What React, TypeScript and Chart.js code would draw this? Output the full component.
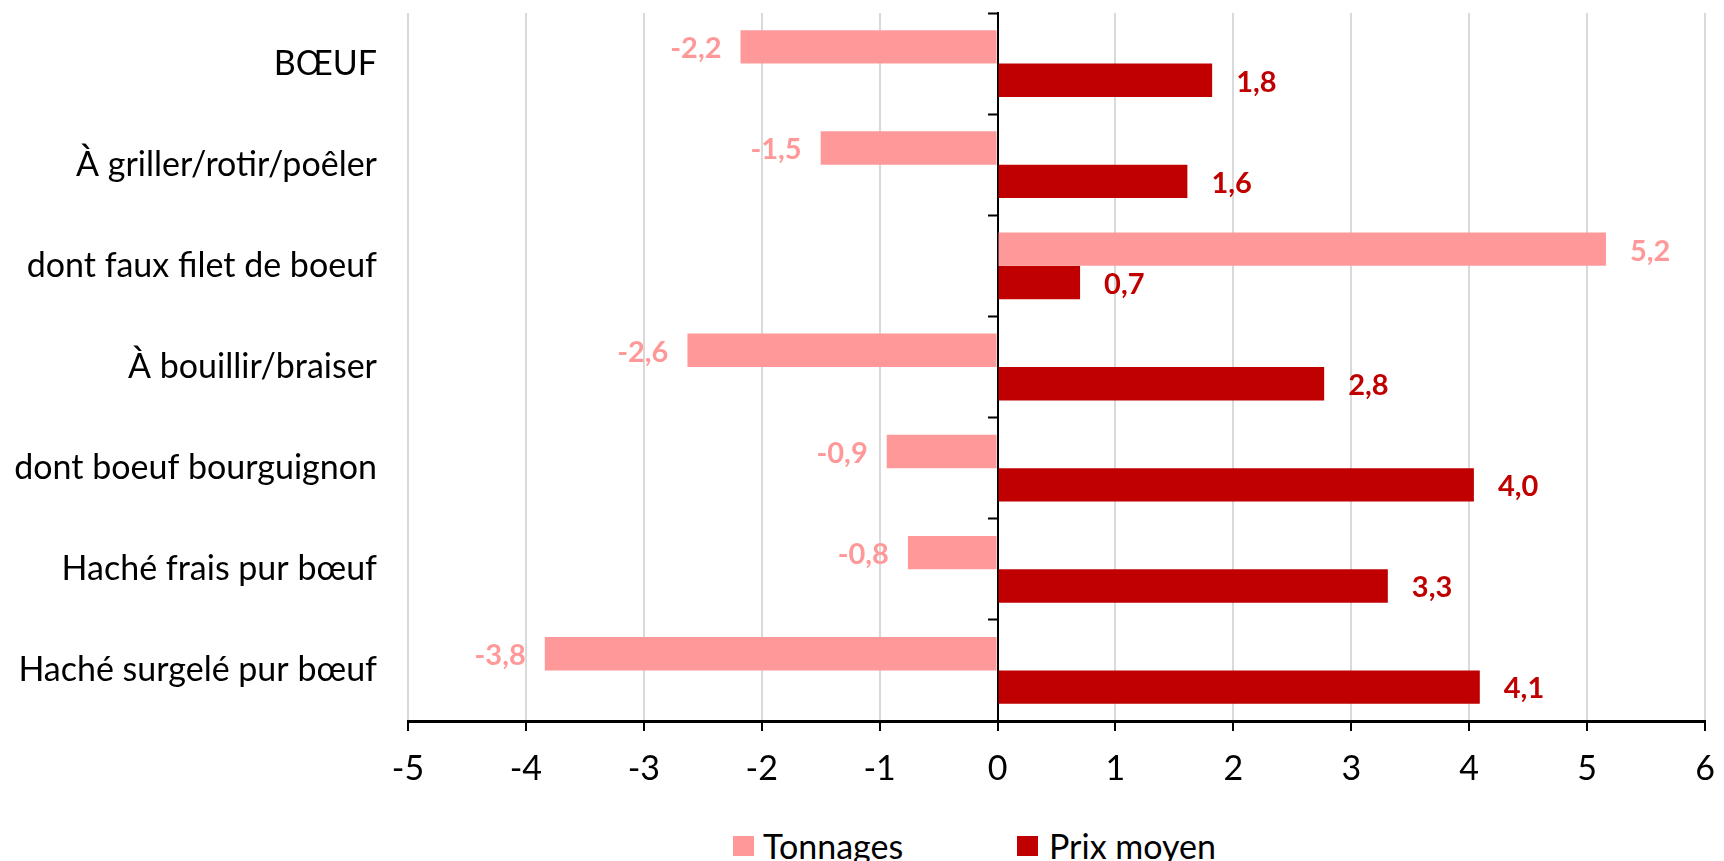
import React, { useEffect, useRef } from "react";
import { Chart, registerables } from "chart.js";

Chart.register(...registerables);

const FONT = "Lato";

const categories = [
  "BŒUF",
  "À griller/rotir/poêler",
  "dont faux filet de boeuf",
  "À bouillir/braiser",
  "dont boeuf bourguignon",
  "Haché frais pur bœuf",
  "Haché surgelé pur bœuf",
];
const tonnages = [-2.18, -1.5, 5.16, -2.63, -0.94, -0.76, -3.84];
const prixMoyen = [1.82, 1.61, 0.7, 2.77, 4.04, 3.31, 4.09];
const seriesNames = ["Tonnages", "Prix moyen"];
const seriesColors = ["#FF9999", "#C00000"];
const xMin = -5;
const xMax = 6;

const labelPlugin = {
  id: "barValueLabels",
  afterDatasetsDraw(chart: any) {
    const ctx = chart.ctx;
    chart.data.datasets.forEach((ds: any, di: number) => {
      const meta = chart.getDatasetMeta(di);
      meta.data.forEach((el: any, i: number) => {
        const v = ds.data[i] as number;
        const text = v.toFixed(1).replace(".", ",");
        ctx.save();
        ctx.font = `bold 29px ${FONT}`;
        ctx.fillStyle = ds.backgroundColor;
        ctx.textBaseline = "middle";
        if (v < 0) {
          ctx.textAlign = "right";
          ctx.fillText(text, el.x - 19, el.y + 2);
        } else {
          ctx.textAlign = "left";
          ctx.fillText(text, el.x + 24, el.y + 2);
        }
        ctx.restore();
      });
    });
  },
};

export default function App() {
  const ref = useRef<HTMLCanvasElement>(null);

  useEffect(() => {
    let chart: Chart | null = null;
    let cancelled = false;
    const make = () => {
      if (cancelled || !ref.current) return;
      chart = new Chart(ref.current, {
        type: "bar",
        data: {
          labels: categories,
          datasets: [
            {
              label: seriesNames[0],
              data: tonnages,
              backgroundColor: seriesColors[0],
              yAxisID: "y",
              xAxisID: "x",
              categoryPercentage: 0.66,
              barPercentage: 1.0,
            },
            {
              label: seriesNames[1],
              data: prixMoyen,
              backgroundColor: seriesColors[1],
              yAxisID: "y",
              xAxisID: "x",
              categoryPercentage: 0.66,
              barPercentage: 1.0,
            },
          ],
        },
        options: {
          indexAxis: "y",
          responsive: false,
          animation: false,
          layout: { padding: { top: 13, right: 19, left: 0, bottom: 0 } },
          plugins: {
            legend: { display: false },
            tooltip: { enabled: false },
          },
          scales: {
            x: {
              type: "linear",
              position: "bottom",
              min: xMin,
              max: xMax,
              ticks: {
                stepSize: 1,
                color: "#000",
                font: { family: FONT, size: 34 },
                padding: 18,
                callback: (v: any) => String(v),
              },
              grid: {
                color: "#D9D9D9",
                lineWidth: 2,
                drawTicks: true,
                tickLength: 10,
                tickColor: "#000",
                tickWidth: 2,
              },
              border: { display: true, color: "#000", width: 3 },
              afterFit: (scale: any) => {
                scale.height = 79;
                scale.paddingLeft = 0;
                scale.paddingRight = 0;
              },
            },
            y: {
              type: "category",
              position: "left",
              offset: true,
              ticks: {
                color: "#000",
                font: { family: FONT, size: 34 },
                padding: 31,
              },
              grid: { display: false, drawTicks: false, offset: true },
              border: { display: false },
              afterFit: (scale: any) => {
                scale.width = 408;
                scale.paddingTop = 0;
                scale.paddingBottom = 0;
              },
            },
            y2: {
              type: "category",
              axis: "y",
              position: { x: 0 },
              labels: categories,
              offset: true,
              ticks: { display: false },
              grid: {
                drawOnChartArea: false,
                drawTicks: true,
                tickLength: 9,
                tickColor: "#000",
                tickWidth: 2,
                offset: true,
              },
              border: { display: true, color: "#000", width: 2 },
              afterFit: (scale: any) => {
                scale.paddingTop = 0;
                scale.paddingBottom = 0;
              },
            },
          },
        } as any,
        plugins: [labelPlugin],
      });
    };
    if ((document as any).fonts && (document as any).fonts.load) {
      (document as any).fonts.load(`34px ${FONT}`).then(make, make);
    } else {
      make();
    }
    return () => {
      cancelled = true;
      if (chart) chart.destroy();
    };
  }, []);

  const legendText: React.CSSProperties = {
    position: "absolute",
    top: 826,
    height: 40,
    lineHeight: "40px",
    fontFamily: FONT,
    fontSize: 34,
    color: "#000",
    whiteSpace: "nowrap",
  };
  const legendBox = (color: string, left: number): React.CSSProperties => ({
    position: "absolute",
    left,
    top: 836,
    width: 21,
    height: 20,
    background: color,
  });

  return (
    <div
      style={{
        position: "fixed",
        left: 0,
        top: 0,
        width: 1724,
        height: 861,
        overflow: "hidden",
        background: "#fff",
      }}
    >
      <canvas ref={ref} width={1724} height={800} style={{ display: "block" }} />
      <div style={legendBox(seriesColors[0], 733)} />
      <div style={{ ...legendText, left: 763 }}>{seriesNames[0]}</div>
      <div style={legendBox(seriesColors[1], 1017)} />
      <div style={{ ...legendText, left: 1049 }}>{seriesNames[1]}</div>
    </div>
  );
}
